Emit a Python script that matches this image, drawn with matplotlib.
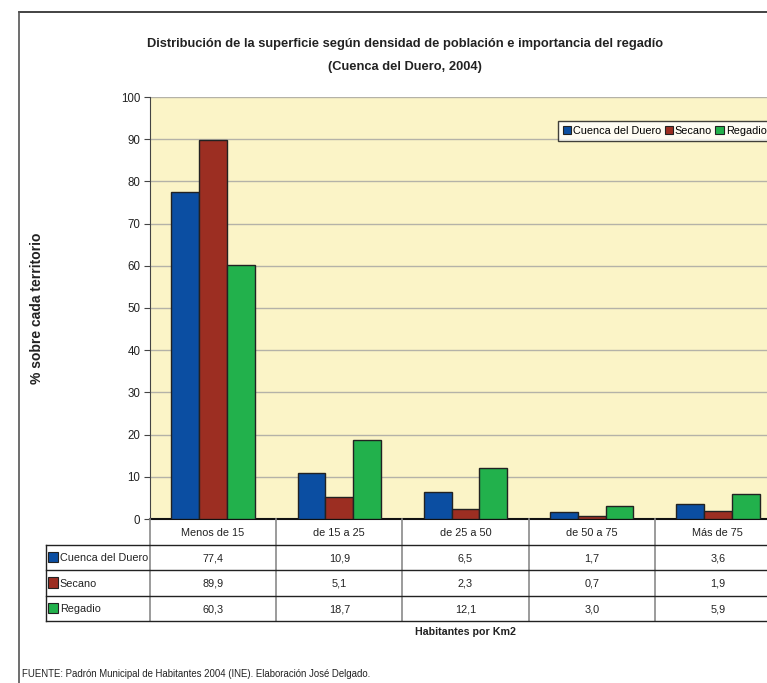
import numpy as np
import matplotlib
matplotlib.use("Agg")
import matplotlib.pyplot as plt
from matplotlib.patches import Patch, Rectangle

plt.rcParams['font.family'] = ['Liberation Sans', 'DejaVu Sans']

categorias = ["Menos de 15", "de 15 a 25", "de 25 a 50", "de 50 a 75", "Más de 75"]
series = ["Cuenca del Duero", "Secano", "Regadio"]
cuenca = [77.4, 10.9, 6.5, 1.7, 3.6]
secano = [89.9, 5.1, 2.3, 0.7, 1.9]
regadio = [60.3, 18.7, 12.1, 3.0, 5.9]
colores = ["#0B4EA2", "#9C2E22", "#22B14C"]

W, H = 767, 683
fig = plt.figure(figsize=(W / 100, H / 100), dpi=100)

def px(x0, y0, x1, y1):
    # caja en pixeles (origen arriba-izquierda) -> fraccion de figura
    return [x0 / W, 1 - y1 / H, (x1 - x0) / W, (y1 - y0) / H]

# marco exterior
fig.add_artist(plt.Line2D([19 / W, 1], [1 - 12 / H] * 2, color="#222222", lw=1.2))
fig.add_artist(plt.Line2D([19 / W] * 2, [1 - 12 / H, 0], color="#555555", lw=1.2))

ax = fig.add_axes(px(150, 97, 781, 519))
ax.set_facecolor("#FBF4C7")
x = np.arange(len(categorias))
bw = 0.22
datos = [cuenca, secano, regadio]
for i, (vals, c) in enumerate(zip(datos, colores)):
    ax.bar(x + (i - 1) * bw, vals, bw, color=c, edgecolor="#222222", linewidth=1.0,
           zorder=3, label=series[i])
ax.set_xlim(-0.5, len(categorias) - 0.5)
ax.set_ylim(0, 100)
ax.set_yticks(np.arange(0, 101, 10))
ax.yaxis.grid(True, color="#B4B2A8", lw=1.0, zorder=0)
ax.set_xticks([])
ax.tick_params(axis="y", direction="out", length=4, labelsize=8.3, color="#444444", pad=3,
               labelcolor="#222222")
for s in ["top", "right"]:
    ax.spines[s].set_visible(False)
ax.spines["left"].set_color("#444444")
ax.spines["bottom"].set_color("#111111")
ax.spines["bottom"].set_linewidth(1.5)
ax.set_ylabel("% sobre cada territorio", fontsize=10, fontweight="bold", color="#222222")
ax.yaxis.set_label_coords(-106 / 631, 0.5)

handles = [Patch(facecolor=c, edgecolor="#222222", lw=0.8) for c in colores]
leg = ax.legend(handles, series, loc="upper left", bbox_to_anchor=(408 / 631, 1 - 24 / 422),
                ncol=3, fontsize=7.8, frameon=True, fancybox=False, edgecolor="#111111",
                handlelength=0.75, handleheight=0.75, handletextpad=0.2, columnspacing=0.3,
                borderpad=0.45, borderaxespad=0)
leg.get_frame().set_linewidth(1.0)

fig.text(405 / W, 1 - 44 / H, "Distribución de la superficie según densidad de población e importancia del regadío",
         ha="center", va="center", fontsize=9.3, fontweight="bold", color="#222222")
fig.text(405 / W, 1 - 67 / H, "(Cuenca del Duero, 2004)",
         ha="center", va="center", fontsize=9.3, fontweight="bold", color="#222222")

# tabla de datos
tb = fig.add_axes(px(150, 519, 781, 621))
tb.set_xlim(-0.5, len(categorias) - 0.5)
tb.set_ylim(0, 4)
tb.axis("off")
xl = -0.5 - 104 / 126
for k in range(len(categorias) + 1):
    tb.plot([k - 0.5] * 2, [0, 4], color="#8A8A8A", lw=1.2, clip_on=False)
tb.plot([xl, xl], [0, 3], color="#222222", lw=1.0, clip_on=False)
for yy in [0, 1, 2, 3]:
    tb.plot([xl, len(categorias) - 0.5], [yy, yy], color="#222222", lw=1.0, clip_on=False)
for j, cat in enumerate(categorias):
    tb.text(j, 3.5, cat, ha="center", va="center_baseline", fontsize=7.8, color="#222222")
for i, (vals, c) in enumerate(zip(datos, colores)):
    yc = 2.5 - i
    tb.add_patch(Rectangle((xl + 0.02, yc - 0.2), 0.075, 0.42, facecolor=c,
                           edgecolor="#222222", lw=0.8, clip_on=False))
    tb.text(xl + 0.11, yc, series[i], ha="left", va="center_baseline", fontsize=7.8,
            color="#222222")
    for j, v in enumerate(vals):
        tb.text(j, yc, f"{v:.1f}".replace(".", ","), ha="center", va="center_baseline",
                fontsize=7.8, color="#222222")

fig.text(465 / W, 1 - 632 / H, "Habitantes por Km2", ha="center", va="center",
         fontsize=7.7, fontweight="bold", color="#222222")
fig.text(22 / W, 1 - 674 / H,
         "FUENTE: Padrón Municipal de Habitantes 2004 (INE). Elaboración José Delgado.",
         ha="left", va="center", fontsize=6.9, color="#222222")

fig.savefig("out.png", dpi=100)
